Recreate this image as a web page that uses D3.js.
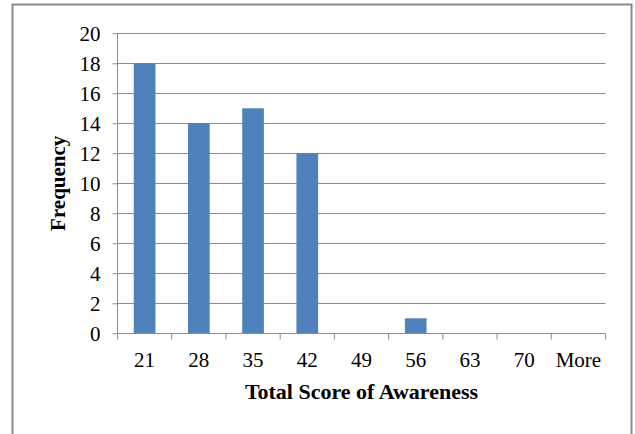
<!DOCTYPE html>
<html>
<head>
<meta charset="utf-8">
<script src="https://cdn.jsdelivr.net/npm/d3@7"></script>
<style>
  html, body { margin: 0; padding: 0; background: #fff; }
  svg { display: block; }
  svg text { font-family: "Liberation Serif", "Times New Roman", serif; }
</style>
</head>
<body>
<script>
const categories = ["21", "28", "35", "42", "49", "56", "63", "70", "More"];
const frequency = [18, 14, 15, 12, 0, 1, 0, 0, 0];
const yTicks = [0, 2, 4, 6, 8, 10, 12, 14, 16, 18, 20];

const W = 635, H = 434;
const pLeft = 117.5, pRight = 605.5, pTop = 33.3, pBottom = 333.3;
const serif = "'Liberation Serif', 'Times New Roman', serif";

const svg = d3.select("body").append("svg").attr("width", W).attr("height", H);

// outer chart border
svg.append("rect")
  .attr("x", 12.5).attr("y", 4.5)
  .attr("width", 619).attr("height", 440)
  .attr("fill", "#fff").attr("stroke", "#8a8a8a").attr("stroke-width", 2);

const x = d3.scaleBand().domain(categories).range([pLeft, pRight]).paddingInner(0).paddingOuter(0);
const y = d3.scaleLinear().domain([0, 20]).range([pBottom, pTop]);

// gridlines
svg.append("g").selectAll("line").data(yTicks.filter(d => d > 0)).join("line")
  .attr("x1", pLeft).attr("x2", pRight)
  .attr("y1", d => Math.round(y(d)) + 0.5).attr("y2", d => Math.round(y(d)) + 0.5)
  .attr("stroke", "#8c8c8c").attr("stroke-width", 1);

// bars
const bw = x.bandwidth() / 2.5;
svg.append("g").selectAll("rect").data(categories).join("rect")
  .attr("x", (d) => x(d) + (x.bandwidth() - bw) / 2)
  .attr("width", bw)
  .attr("y", (d, i) => y(frequency[i]))
  .attr("height", (d, i) => pBottom - y(frequency[i]))
  .attr("fill", "#4f81bd");

// y axis
const yAxis = d3.axisLeft(y).tickValues(yTicks).tickSize(5).tickPadding(12);
const gy = svg.append("g").attr("transform", `translate(${pLeft},0)`).call(yAxis)
  .attr("font-family", serif).attr("font-size", 21);
gy.select(".domain").attr("stroke", "#8c8c8c").attr("d", `M0,${pTop}V${pBottom}`);
gy.selectAll(".tick line").attr("stroke", "#8c8c8c");
gy.selectAll(".tick text")
  .style("font-family", serif)
  .style("font-size", "21px").attr("fill", "#000").attr("dy", "0.34em");

// x axis with ticks at category boundaries
const gx = svg.append("g").attr("transform", `translate(0,${Math.round(pBottom) + 0.5})`);
gx.append("line").attr("x1", pLeft).attr("x2", pRight).attr("stroke", "#8c8c8c");
const bounds = categories.map(c => x(c)).concat([pRight]);
gx.selectAll("line.tk").data(bounds).join("line").attr("class", "tk")
  .attr("x1", d => d).attr("x2", d => d).attr("y1", 0).attr("y2", 6)
  .attr("stroke", "#8c8c8c");
gx.selectAll("text").data(categories).join("text")
  .attr("x", d => x(d) + x.bandwidth() / 2)
  .attr("y", 33)
  .attr("text-anchor", "middle")
  .style("font-family", serif)
  .style("font-size", "21px").attr("fill", "#000")
  .text(d => d);

// axis titles
svg.append("text")
  .attr("x", (pLeft + pRight) / 2).attr("y", 399)
  .attr("text-anchor", "middle")
  .style("font-family", serif)
  .style("font-weight", "bold").style("font-size", "22px")
  .text("Total Score of Awareness");

svg.append("text")
  .attr("transform", `translate(65,${(pTop + pBottom) / 2}) rotate(-90)`)
  .attr("text-anchor", "middle")
  .style("font-family", serif)
  .style("font-weight", "bold").style("font-size", "21px")
  .text("Frequency");
</script>
</body>
</html>
